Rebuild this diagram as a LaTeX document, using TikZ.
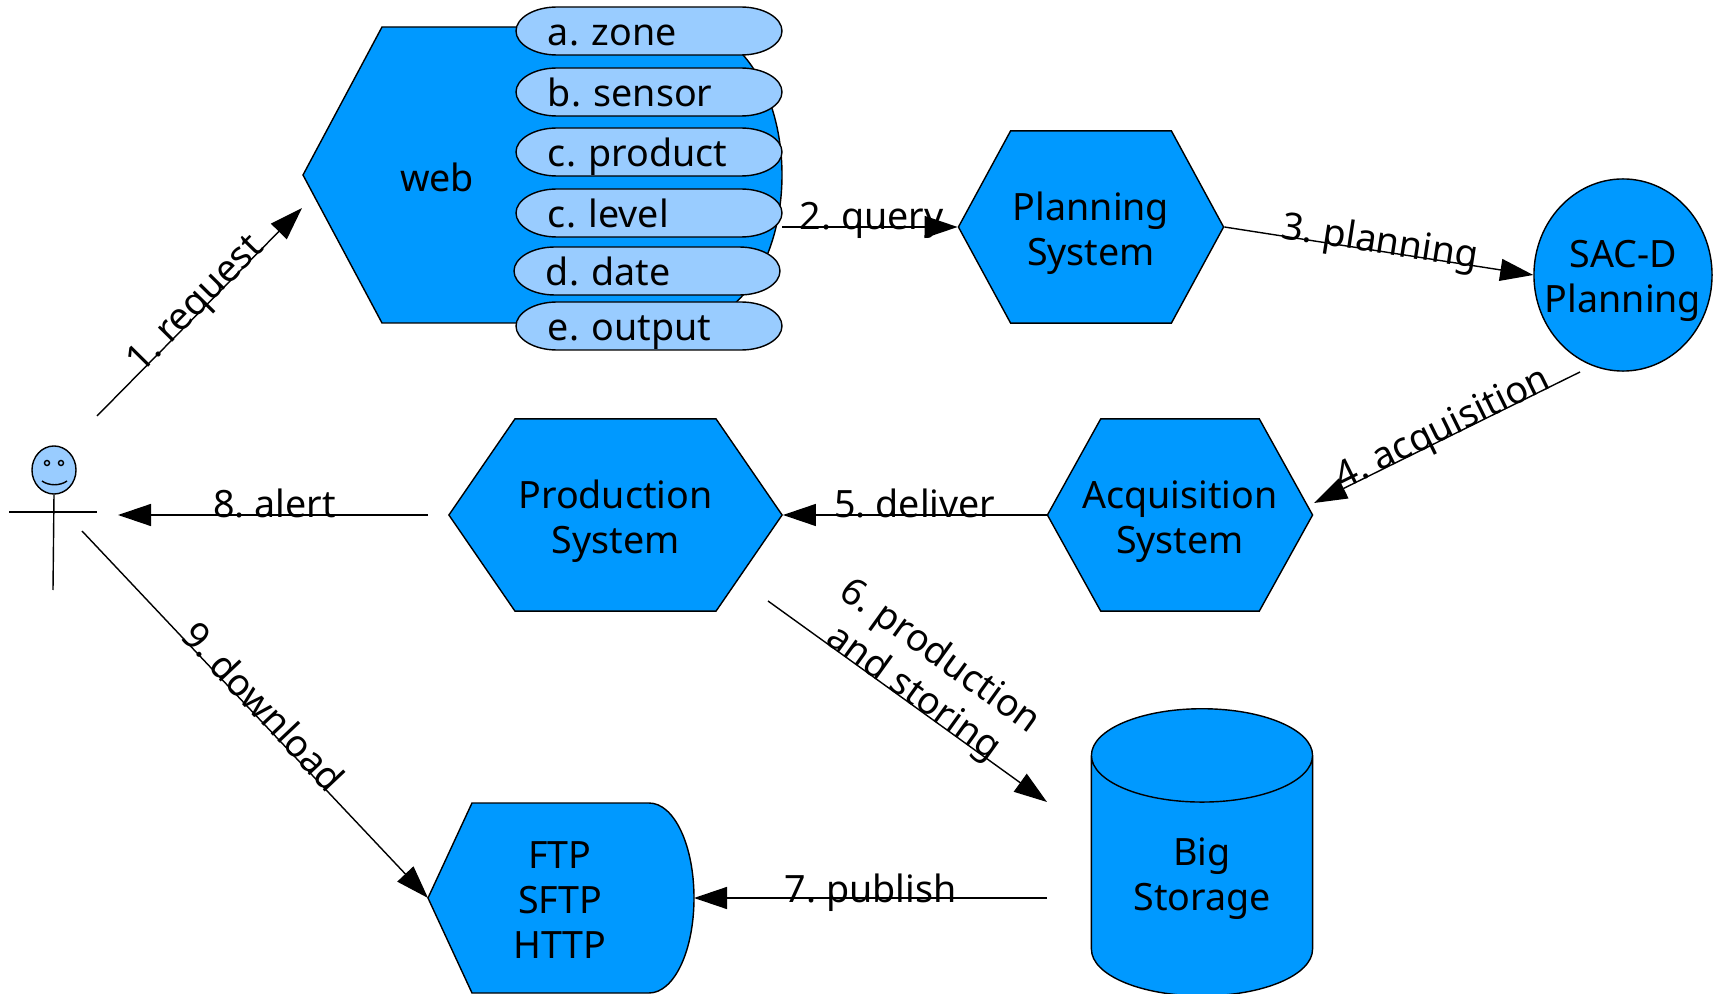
\documentclass[tikz,border=0pt]{standalone}
\usepackage{fontspec}
\setmainfont{Noto Sans}
\usepackage{xcolor}
\usetikzlibrary{arrows.meta,shapes.geometric,shapes.symbols}
\definecolor{shapeblue}{HTML}{0099FF}
\definecolor{fieldblue}{HTML}{99CCFF}
\tikzset{
  hexnode/.style={signal,signal to=east and west,draw,fill=shapeblue,minimum height=1.92cm,align=center,inner ysep=0pt,inner xsep=-.3cm,text height=.86cm,text depth=.09cm},
  fieldnode/.style={text width=2.02cm,inner xsep=.32cm,inner ysep=0pt,text height=.34cm,text depth=.05cm},
  flow/.style={->,>={Triangle[length=.33cm,width=.22cm]},line width=.4pt},
  flowlabel/.style={align=center,inner sep=0pt}
}
\newcommand{\fieldbox}[4]{
\draw[fill=fieldblue] ([shift={(-92,-24)}]#2,#3)--([shift={(92,-24)}]#2,#3) .. controls ([shift={(115,-24)}]#2,#3) and ([shift={(133,-13)}]#2,#3) .. ([shift={(133,0)}]#2,#3) .. controls ([shift={(133,13)}]#2,#3) and ([shift={(115,24)}]#2,#3) .. ([shift={(92,24)}]#2,#3)--([shift={(-92,24)}]#2,#3) .. controls ([shift={(-115,24)}]#2,#3) and ([shift={(-133,13)}]#2,#3) .. ([shift={(-133,0)}]#2,#3) .. controls ([shift={(-133,-13)}]#2,#3) and ([shift={(-115,-24)}]#2,#3) .. cycle;
\node[fieldnode](#1) at(#2,#3){#4};
}
\begin{document}
\frenchspacing
\begin{tikzpicture}[x=0.01cm,y=-0.01cm,font=\fontsize{10.7}{12.8}\selectfont]
\useasboundingbox (0,0) rectangle (1714,994);

% web shape
\coordinate(webtip) at(303,175);
\coordinate(webin) at(302,208);
\coordinate(webout) at(782,227);
\draw[fill=shapeblue](webtip)--(382,27)--(688,27) .. controls (740,27) and (782,93) .. (782,175) .. controls (782,257) and (740,323) .. (688,323)--(382,323)--cycle;
\node(web) at(437,177){web};
\fieldbox{zone}{649}{31}{a. zone}
\fieldbox{sensor}{649}{92}{b. sensor}
\fieldbox{product}{649}{152}{c. product}
\fieldbox{level}{649}{213}{c. level}
\fieldbox{date}{647}{271}{d. date}
\fieldbox{output}{649}{326}{e. output}

% systems
\node[hexnode,minimum width=2.65cm,signal pointer angle=123](planning) at(1091,227){Planning\\System};
\node[draw,fill=shapeblue,ellipse,minimum width=1.78cm,minimum height=1.92cm,align=center,inner sep=-.2cm,text height=.84cm](sacd) at(1623,275){SAC-D\\Planning};
\node[hexnode,minimum width=2.65cm,signal pointer angle=122](acquisition) at(1180,515){Acquisition\\System};
\node[hexnode,minimum width=3.33cm,signal pointer angle=111](production) at(615.5,515){Production\\System};
\node[draw,fill=shapeblue,cylinder,shape border rotate=90,aspect=.68,minimum width=2.21cm,minimum height=2.87cm,align=center,inner sep=0pt,text height=.78cm](storage) at(1202,876){Big\\Storage};

% ftp shape
\coordinate(ftptip) at(428,898);
\coordinate(ftpin) at(694,898);
\draw[fill=shapeblue](ftptip)--(472,803)--(649,803) .. controls (674,803) and (694,845) .. (694,898) .. controls (694,951) and (674,993) .. (649,993)--(472,993)--cycle;
\node[align=center,inner sep=0pt](ftp) at(560,900){FTP\\SFTP\\HTTP};

% user
\node[draw,fill=fieldblue,ellipse,minimum width=.44cm,minimum height=.48cm,inner sep=0pt](head) at(54,470){};
\node[draw,circle,minimum size=.05cm,inner sep=0pt](eyel) at(47,463){};
\node[draw,circle,minimum size=.05cm,inner sep=0pt](eyer) at(61,463){};
\coordinate(smilel) at(42,481);
\coordinate(smiler) at(67,481);
\coordinate(foot) at(53,590);
\coordinate(arml) at(9,512);
\coordinate(armr) at(97,512);
\draw(smilel) .. controls (49,486) and (60,486) .. (smiler);
\draw(head.south)--(foot);
\draw(arml)--(armr);

% free ends of the connectors
\coordinate(userup) at(97,416);
\coordinate(userdown) at(82,531);
\coordinate(userright) at(118,515);
\coordinate(alertfrom) at(428,515);
\coordinate(sacdout) at(1580,372);
\coordinate(acqin) at(1314,503);
\coordinate(storefrom) at(768,601);
\coordinate(storeto) at(1047,802);
\coordinate(pubfrom) at(1047,898);

\draw[flow](userup)--(webin) node[pos=0.51,sloped,above=-.12cm,flowlabel]{1. request};
\draw[flow](webout)--(planning.west) node[pos=0.51,above=-.12cm,flowlabel]{2. query};
\draw[flow](planning.east)--(sacd.west) node[pos=0.5,sloped,above=-.12cm,flowlabel]{3. planning};
\draw[flow](sacdout)--(acqin) node[pos=0.5,sloped,above=-.11cm,flowlabel]{4. acquisition};
\draw[flow](acquisition.west)--(production.east) node[pos=0.5,above=-.04cm,flowlabel]{5. deliver};
\draw[flow](alertfrom)--(userright) node[pos=0.495,above=-.04cm,flowlabel]{8. alert};
\draw[flow](storefrom)--(storeto) node[pos=0.5,sloped,above=-.1cm,flowlabel]{6. production\\and storing};
\draw[flow](pubfrom)--(ftpin) node[pos=0.5,above=-.14cm,flowlabel]{7. publish};
\draw[flow](userdown)--(ftptip) node[pos=0.5,sloped,above=-.03cm,flowlabel]{9. download};

\end{tikzpicture}
\end{document}
